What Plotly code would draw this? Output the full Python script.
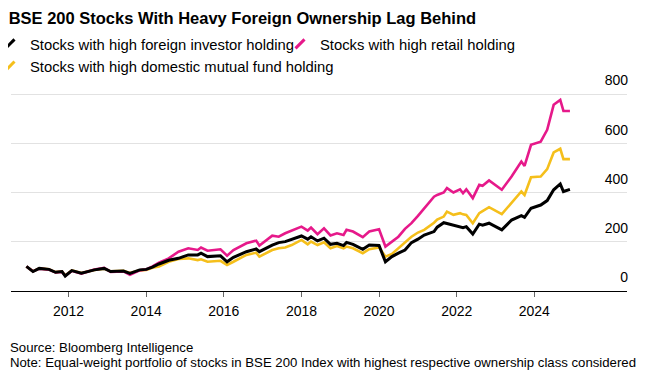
import plotly.graph_objects as go

dates = [
    "2010-12", "2011-02", "2011-04", "2011-07", "2011-09", "2011-11", "2011-12",
    "2012-02", "2012-05", "2012-07", "2012-09", "2012-12", "2013-02", "2013-06",
    "2013-08", "2013-11", "2014-01", "2014-03", "2014-05", "2014-08", "2014-11",
    "2015-02", "2015-05", "2015-06", "2015-08", "2015-12", "2016-02", "2016-04",
    "2016-08", "2016-11", "2016-12", "2017-04", "2017-06", "2017-08", "2017-10",
    "2018-01", "2018-03", "2018-04", "2018-06", "2018-08", "2018-10", "2018-12",
    "2019-02", "2019-03", "2019-05", "2019-08", "2019-10", "2020-01", "2020-03",
    "2020-05", "2020-07", "2020-09", "2020-11", "2021-01", "2021-03", "2021-06",
    "2021-07", "2021-09", "2021-10", "2021-12", "2022-02", "2022-03", "2022-04",
    "2022-06", "2022-08", "2022-09", "2022-11", "2023-03", "2023-06", "2023-09",
    "2023-10", "2023-12", "2024-03", "2024-05", "2024-07", "2024-09", "2024-10",
    "2024-12",
]

foreign = [
    100, 79, 92, 88, 76, 79, 61,
    83, 72, 79, 86, 92, 79, 81,
    72, 86, 88, 97, 110, 125, 133,
    147, 147, 154, 140, 143, 119, 137,
    160, 171, 160, 187, 197, 201, 211,
    224, 211, 221, 204, 215, 190, 194,
    185, 198, 190, 170, 187, 185, 119,
    140, 154, 167, 197, 211, 228, 242,
    260, 278, 275, 269, 260, 258, 262,
    232, 272, 268, 276, 249, 289, 307,
    300, 337, 350, 368, 412, 436, 405,
    414,
]

retail = [
    100, 80, 91, 87, 76, 78, 62,
    82, 71, 80, 87, 94, 78, 80,
    66, 84, 88, 100, 115, 133, 160,
    174, 167, 177, 164, 170, 144, 167,
    194, 205, 185, 225, 221, 235, 245,
    262, 246, 258, 231, 255, 226, 235,
    228, 249, 242, 219, 242, 251, 181,
    201, 221, 253, 276, 306, 337, 384,
    391, 401, 419, 401, 414, 398, 414,
    378, 432, 428, 450, 412, 466, 527,
    509, 595, 608, 656, 758, 778, 733,
    733,
]

mutual_fund = [
    100, 80, 92, 88, 77, 80, 63,
    84, 73, 80, 86, 91, 80, 82,
    73, 84, 86, 95, 100, 119, 130,
    133, 126, 129, 119, 123, 106, 119,
    147, 156, 140, 167, 174, 177, 187,
    208, 190, 201, 187, 198, 174, 183,
    174, 181, 174, 154, 170, 177, 140,
    151, 174, 194, 221, 238, 249, 278,
    291, 303, 323, 310, 317, 312, 310,
    276, 317, 325, 341, 313, 360, 405,
    391, 463, 466, 496, 564, 579, 537,
    537,
]

series_names = [
    "Stocks with high foreign investor holding",
    "Stocks with high retail holding",
    "Stocks with high domestic mutual fund holding",
]
colors = ["#000000", "#e6198a", "#f5bf1b"]
y_ticks = [0, 200, 400, 600, 800]

FONT = "Liberation Sans, Arial, sans-serif"

# The page adds an 8px body margin, so figure coords = screen coords - 8.
OFF = 8
W, H = 645, 384
L = 11 - OFF            # plot left
RIGHT = 627 - OFF       # plot right
BOT = 291 - OFF         # plot bottom (value 0)
PX_PER_UNIT = (291 - 94.7) / 800
YMAX = 920
TOP = BOT - YMAX * PX_PER_UNIT
PH = BOT - TOP
PW = RIGHT - L


def py(screen_y):  # screen y -> paper y
    return (BOT - (screen_y - OFF)) / PH


def pxx(screen_x):  # screen x -> paper x
    return ((screen_x - OFF) - L) / PW


fig = go.Figure()

for vals, col, w in [(mutual_fund, colors[2], 2.6), (retail, colors[1], 2.6), (foreign, colors[0], 3.0)]:
    fig.add_trace(go.Scatter(x=dates, y=vals, mode="lines",
                             line=dict(color=col, width=w),
                             showlegend=False, hoverinfo="skip"))

for name, col in zip(series_names, colors):
    fig.add_trace(go.Scatter(x=[None], y=[None], mode="markers", name=name,
                             marker=dict(symbol="line-ne", size=9,
                                         line=dict(color=col, width=3))))

fig.update_layout(
    width=W, height=H,
    margin=dict(l=L, r=W - RIGHT, t=TOP, b=H - BOT, autoexpand=False),
    paper_bgcolor="white", plot_bgcolor="white",
    font=dict(family=FONT, size=14, color="#000000"),
    title=dict(text="<b>BSE 200 Stocks With Heavy Foreign Ownership Lag Behind</b>",
               x=0.001, xanchor="left", xref="container",
               y=1 - (18 - OFF) / H, yanchor="middle", yref="container",
               font=dict(family=FONT, size=16.5, color="#000000")),
    legend=dict(orientation="h", x=pxx(-18 + OFF), xanchor="left", y=py(28), yanchor="top",
                font=dict(family=FONT, size=14.8, color="#000000"),
                itemwidth=30, entrywidth=245, entrywidthmode="pixels",
                tracegroupgap=0, bgcolor="rgba(0,0,0,0)"),
    xaxis=dict(type="date", range=["2010-07-09", "2026-05-22"],
               tick0="2012-01-01", dtick="M24", tickformat="%Y",
               showgrid=False, zeroline=False,
               showline=True, linecolor="#000000", linewidth=1.2,
               ticks="outside", ticklen=5, tickcolor="#666666", tickwidth=1,
               ticklabelstandoff=2,
               tickfont=dict(family=FONT, size=14, color="#000000")),
    yaxis=dict(range=[0, YMAX], side="right", tickvals=y_ticks,
               ticktext=[str(v) for v in y_ticks],
               ticklabelposition="inside", ticklabelshift=-14, ticklabelstandoff=-4,
               showgrid=True, gridcolor="#e2e2e2", gridwidth=1.3,
               zeroline=False, showline=False, ticks="",
               tickfont=dict(family=FONT, size=14, color="#000000")),
    annotations=[
        dict(text="Source: Bloomberg Intelligence", xref="paper", yref="paper",
             x=pxx(8), y=py(347), xanchor="left", yanchor="middle",
             showarrow=False, font=dict(family=FONT, size=13.2, color="#000000")),
        dict(text="Note: Equal-weight portfolio of stocks in BSE 200 Index with highest respective ownership class considered",
             xref="paper", yref="paper",
             x=pxx(8), y=py(362), xanchor="left", yanchor="middle",
             showarrow=False, font=dict(family=FONT, size=13.2, color="#000000")),
    ],
)

fig.write_html("out.html")
